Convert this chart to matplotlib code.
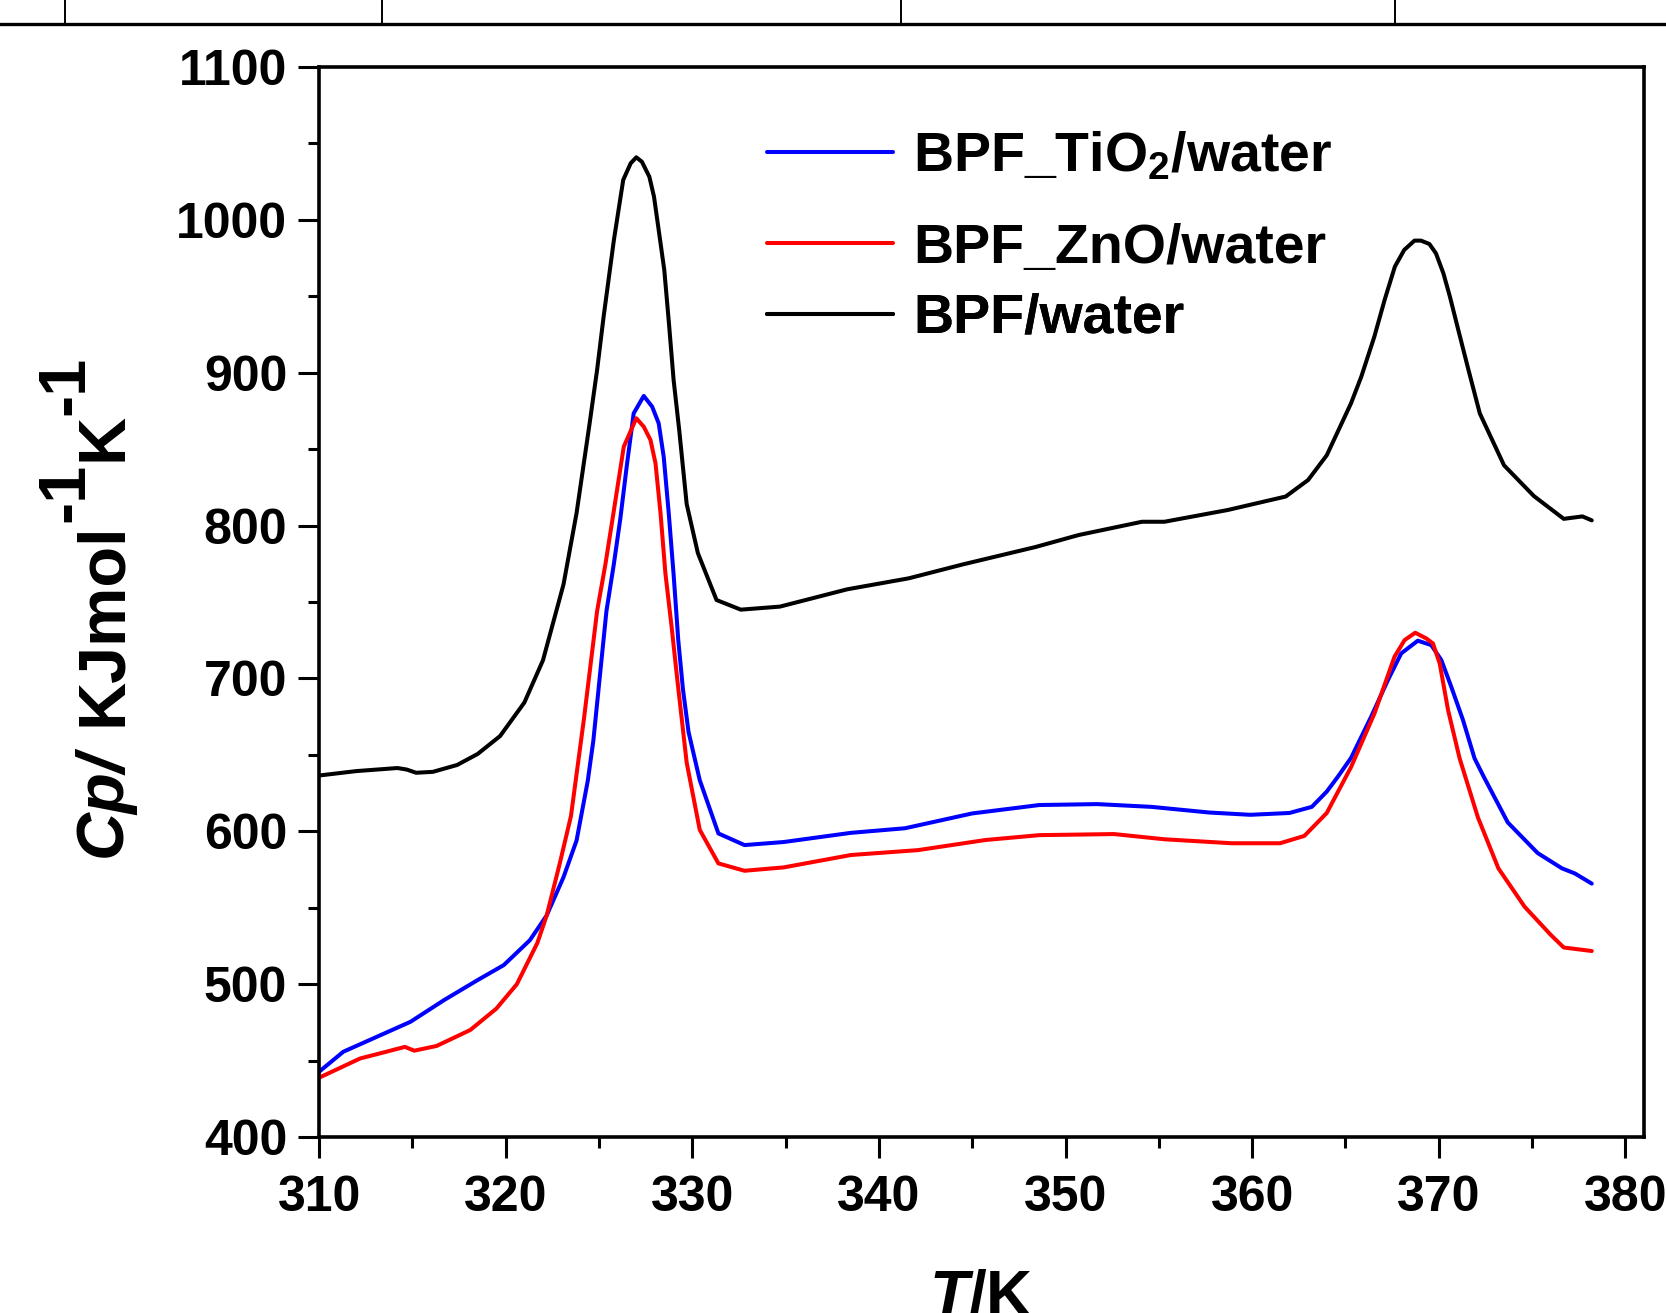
import matplotlib.pyplot as plt
from matplotlib.lines import Line2D
from matplotlib.ticker import MultipleLocator
from matplotlib.transforms import IdentityTransform

plt.rcParams["font.family"] = ["Liberation Sans", "DejaVu Sans"]
plt.rcParams["font.weight"] = "bold"
plt.rcParams["mathtext.fontset"] = "custom"
plt.rcParams["mathtext.rm"] = "Liberation Sans:bold"
plt.rcParams["mathtext.bf"] = "Liberation Sans:bold"
plt.rcParams["mathtext.it"] = "Liberation Sans:bold:italic"

# BPF/water (black)
t_bpf = [310.0, 312.0, 314.2, 314.7, 315.2, 316.1, 317.4, 318.5, 319.7, 321.0,
         322.0, 323.1, 323.8, 324.5, 324.9, 325.25, 325.8, 326.3, 326.7, 327.0,
         327.3, 327.7, 327.95, 328.2, 328.5, 328.75, 329.0, 329.3, 329.7, 330.3,
         331.3, 332.6, 334.7, 338.3, 341.6, 344.5, 348.4, 350.7, 354.1, 355.3,
         358.7, 361.8, 363.0, 364.0, 365.3, 365.85, 366.55, 367.1, 367.65, 368.15,
         368.7, 369.05, 369.5, 369.85, 370.25, 370.6, 371.05, 371.55, 372.2, 373.5,
         375.1, 376.7, 377.7, 378.2]
cp_bpf = [636.5, 639.4, 641.4, 640.4, 638.3, 638.9, 643.4, 650.6, 662.3, 684.2,
          711.9, 761.5, 808.2, 866.9, 901.8, 936.7, 986.8, 1026.1, 1037.0, 1040.9,
          1038.0, 1028.2, 1015.1, 993.4, 967.2, 932.3, 895.2, 862.5, 814.1, 782.0,
          751.3, 745.0, 747.0, 758.3, 765.5, 774.6, 786.0, 793.8, 802.5, 802.5,
          810.2, 819.0, 829.8, 846.0, 880.0, 897.4, 923.6, 947.6, 969.4, 980.3,
          986.4, 986.4, 984.2, 978.1, 965.0, 949.7, 927.9, 903.9, 873.4, 839.4,
          819.3, 804.4, 806.0, 803.4]

# BPF_TiO2/water (blue)
t_tio2 = [310.0, 311.3, 313.1, 314.9, 316.7, 318.5, 319.9, 321.3, 322.2, 323.1,
          323.8, 324.4, 324.7, 325.4, 325.8, 326.15, 326.5, 326.86, 327.4, 327.85,
          328.2, 328.47, 328.74, 329.0, 329.25, 329.5, 329.8, 330.4, 331.4, 332.8,
          334.9, 338.5, 341.4, 345.0, 348.6, 351.7, 354.6, 357.7, 359.9, 362.0,
          363.2, 364.0, 364.6, 365.3, 366.38, 367.28, 367.99, 368.88, 369.6, 370.14,
          370.67, 371.3, 371.92, 372.4, 373.7, 375.3, 376.6, 377.3, 378.2]
cp_tio2 = [442.7, 455.8, 465.6, 475.4, 489.6, 502.7, 512.5, 528.8, 545.0, 570.0,
           594.0, 633.0, 659.4, 744.0, 775.0, 805.0, 840.0, 873.4, 884.8, 877.8,
           866.9, 845.0, 808.0, 768.0, 725.0, 693.0, 665.0, 633.5, 598.6, 591.0,
           593.0, 599.0, 602.0, 611.7, 617.2, 617.8, 616.0, 612.3, 610.8, 612.0,
           616.0, 626.0, 635.8, 648.0, 675.0, 699.0, 716.4, 724.7, 721.8, 712.0,
           694.6, 672.8, 647.7, 636.0, 605.8, 585.8, 575.8, 572.4, 565.8]

# BPF_ZnO/water (red)
t_zno = [310.0, 312.2, 313.6, 314.6, 315.1, 316.3, 318.1, 319.5, 320.6, 321.7,
         322.2, 322.9, 323.5, 324.2, 324.9, 325.35, 325.8, 326.33, 327.0, 327.4,
         327.76, 328.03, 328.3, 328.56, 328.9, 329.2, 329.7, 330.4, 331.4, 332.8,
         334.9, 338.5, 342.1, 345.7, 348.6, 352.6, 355.3, 358.9, 361.5, 362.8,
         364.0, 365.3, 366.56, 367.63, 368.17, 368.74, 369.33, 369.69, 370.05, 370.5,
         371.12, 372.1, 373.2, 374.6, 376.0, 376.7, 378.2]
cp_zno = [438.8, 451.4, 455.8, 459.0, 456.5, 459.6, 470.0, 484.0, 500.0, 527.0,
          545.0, 579.0, 610.0, 674.0, 744.0, 775.0, 810.0, 851.6, 870.2, 864.7,
          856.0, 840.7, 808.0, 768.8, 733.0, 699.0, 645.0, 601.0, 579.0, 574.2,
          576.4, 584.5, 587.7, 594.3, 597.5, 598.2, 594.8, 592.2, 592.2, 597.0,
          612.0, 642.0, 677.2, 714.2, 725.1, 729.9, 726.2, 722.9, 709.9, 679.3,
          647.7, 609.1, 575.7, 550.7, 532.3, 524.0, 521.7]

fig = plt.figure(figsize=(16.66, 13.13), dpi=100)
ax = fig.add_axes([0.1915, 0.134, 0.7953, 0.815])

kw = dict(lw=2.9, solid_joinstyle="round", solid_capstyle="round")
l_tio2, = ax.plot(t_tio2, cp_tio2, color="#0000ff", label="BPF_TiO$_2$/water", **kw)
l_zno, = ax.plot(t_zno, cp_zno, color="#ff0000", label="BPF_ZnO/water", **kw)
l_bpf, = ax.plot(t_bpf, cp_bpf, color="black", label="BPF/water", **kw)

ax.set_xlim(310, 381)
ax.set_ylim(400, 1100)
ax.xaxis.set_major_locator(MultipleLocator(10))
ax.xaxis.set_minor_locator(MultipleLocator(5))
ax.yaxis.set_major_locator(MultipleLocator(100))
ax.yaxis.set_minor_locator(MultipleLocator(50))
ax.tick_params(which="both", direction="out", width=2.2, labelsize=36)
ax.tick_params(which="major", length=15)
ax.tick_params(which="minor", length=8)
ax.tick_params(axis="x", pad=12)
ax.tick_params(axis="y", pad=8)
for sp in ax.spines.values():
    sp.set_linewidth(2.6)

ax.set_xlabel(r"$\mathit{T/}$K", fontsize=46, fontweight="bold")
ax.xaxis.set_label_coords(0.5, -0.123)

# one legend per entry, the rows are not evenly spaced in the original
for line, yfrac in zip([l_tio2, l_zno, l_bpf], [0.916, 0.830, 0.7645]):
    lg = ax.legend(handles=[line], loc="center left", bbox_to_anchor=(0.338, yfrac),
                   frameon=False, fontsize=40, handlelength=2.27, handletextpad=0.36,
                   borderpad=0, borderaxespad=0)
    ax.add_artist(lg)

# y label pieced together so the superscripts stay full size
# (text, style, baseline x px, start y px from top)
pieces = [("Cp/", "italic", 121, 857), ("KJmol", "normal", 121, 726),
          ("-1", "normal", 83, 522), ("K", "normal", 121, 461),
          ("-1", "normal", 83, 415)]
for s, style, bx, ys in pieces:
    fig.text(bx, 1313 - ys, s, rotation=90, rotation_mode="anchor",
             ha="left", va="baseline", fontsize=48, fontweight="bold",
             fontstyle=style, transform=IdentityTransform())

# strip of a table border above the plot
fig.add_artist(Line2D([0, 1], [0.9817, 0.9817], transform=fig.transFigure,
                      color="black", lw=2.4))
for xv in [0.039, 0.2293, 0.5408, 0.8373]:
    fig.add_artist(Line2D([xv, xv], [0.9817, 1.0], transform=fig.transFigure,
                          color="black", lw=1.4))

fig.savefig("out.png", dpi=100)
